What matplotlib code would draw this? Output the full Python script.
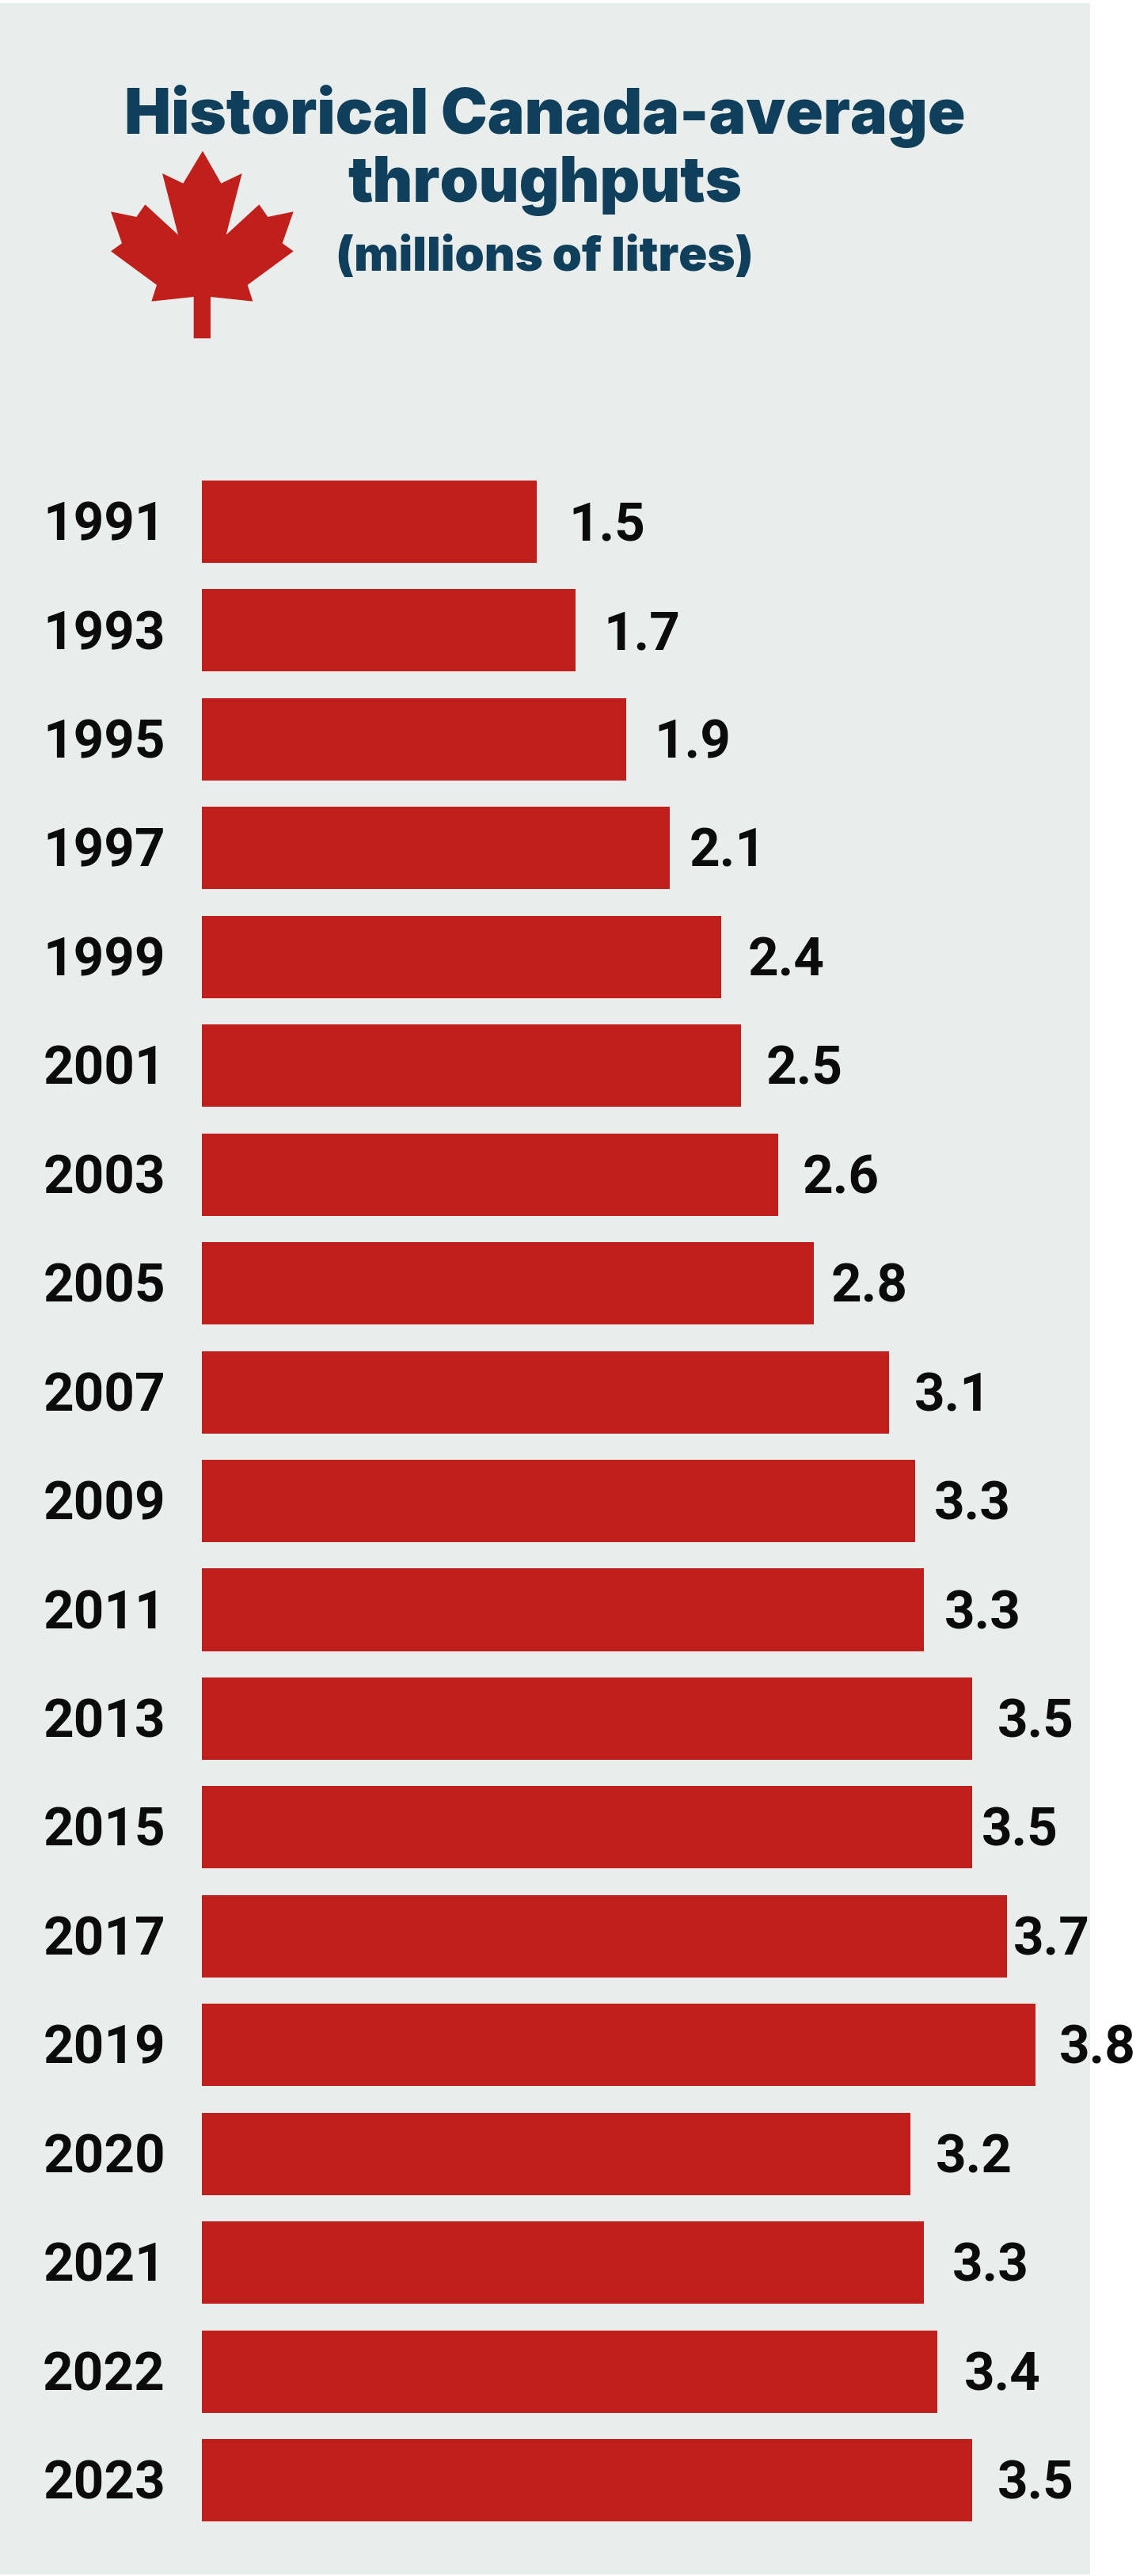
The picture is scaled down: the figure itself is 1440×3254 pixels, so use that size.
#! /usr/bin/env python3
# coding: utf-8

import matplotlib
matplotlib.use("Agg")
import matplotlib.pyplot as plt
from matplotlib.patches import Polygon, Rectangle

years = ['1991', '1993', '1995', '1997', '1999', '2001', '2003', '2005', '2007', '2009',
         '2011', '2013', '2015', '2017', '2019', '2020', '2021', '2022', '2023']
throughputs = [1.516, 1.69, 1.92, 2.12, 2.35, 2.44, 2.61, 2.77, 3.11, 3.23,
               3.27, 3.487, 3.487, 3.645, 3.774, 3.208, 3.27, 3.33, 3.487]
value_labels = ['1.5', '1.7', '1.9', '2.1', '2.4', '2.5', '2.6', '2.8', '3.1', '3.3',
                '3.3', '3.5', '3.5', '3.7', '3.8', '3.2', '3.3', '3.4', '3.5']
# ecart entre le bout de la barre et l'etiquette, en pixels
label_gaps = [40, 36, 36, 24, 34, 32, 30, 22, 32, 24, 26, 32, 12, 8, 30, 32, 36, 34, 32]

W, H = 1440, 3254
RED = '#C01F1B'
NAVY = '#0F3F5A'
PX_PER_UNIT = 279
BAR_LEFT = 255
PITCH = 137.45
FIRST_CENTER = 659

fig = plt.figure(figsize=(W / 100, H / 100), dpi=100, facecolor='white')


def fx(x):
    return x / W


def fy(y):
    return 1 - y / H


# panneau gris
fig.patches.append(Rectangle((0, fy(3252)), fx(1377), fy(4) - fy(3252), transform=fig.transFigure,
                             facecolor='#E9EDEC', edgecolor='none', zorder=-1))

# feuille d'erable
half = [(408, 32), (478, 155), (557, 117), (497, 350), (622, 235), (655, 282), (752, 262),
        (710, 382), (752, 412), (578, 540), (598, 602), (438, 585), (438, 742)]
right = [(120 + x / 3, 180 + y / 3) for x, y in half]
axis_x = 120 + 406 / 3
left = [(2 * axis_x - x, y) for x, y in reversed(right[1:])]
leaf = [(fx(x), fy(y)) for x, y in right + left]
fig.patches.append(Polygon(leaf, closed=True, transform=fig.transFigure, facecolor=RED, edgecolor='none'))

ax = fig.add_axes([0, 0, 1, 1])
ax.patch.set_alpha(0)
ax.set_xlim(-BAR_LEFT / PX_PER_UNIT, (W - BAR_LEFT) / PX_PER_UNIT)
ax.set_ylim((H - FIRST_CENTER) / PITCH, -FIRST_CENTER / PITCH)

pos = list(range(len(years)))
ax.barh(pos, throughputs, height=104 / PITCH, color=RED)
ax.set_xticks([])
ax.set_yticks([])
for spine in ax.spines.values():
    spine.set_visible(False)

num_font = ['Roboto', 'Liberation Sans', 'DejaVu Sans']
for i, year in enumerate(years):
    ax.annotate(year, xy=(0, i), xytext=(-46 * 0.72, -4), textcoords='offset points', ha='right',
                va='center', fontsize=48.5, fontweight='bold', family=num_font, color='#0B0B0B')
for i, val in enumerate(throughputs):
    ax.annotate(value_labels[i], xy=(val, i), xytext=(label_gaps[i] * 0.72, -4), textcoords='offset points',
                ha='left', va='center', fontsize=48.5, fontweight='bold', family=num_font, color='#0B0B0B')

title_font = ['Inter', 'Roboto', 'DejaVu Sans']
fig.text(fx(688), fy(169), 'Historical Canada-average', ha='center', va='baseline', fontsize=56.7,
         fontweight='black', family=title_font, color=NAVY)
fig.text(fx(688), fy(255), 'throughputs', ha='center', va='baseline', fontsize=56.7,
         fontweight='black', family=title_font, color=NAVY)
fig.text(fx(688), fy(342), '(millions of litres)', ha='center', va='baseline', fontsize=43,
         fontweight='black', family=title_font, color=NAVY)

fig.savefig('out.png', dpi=100)
